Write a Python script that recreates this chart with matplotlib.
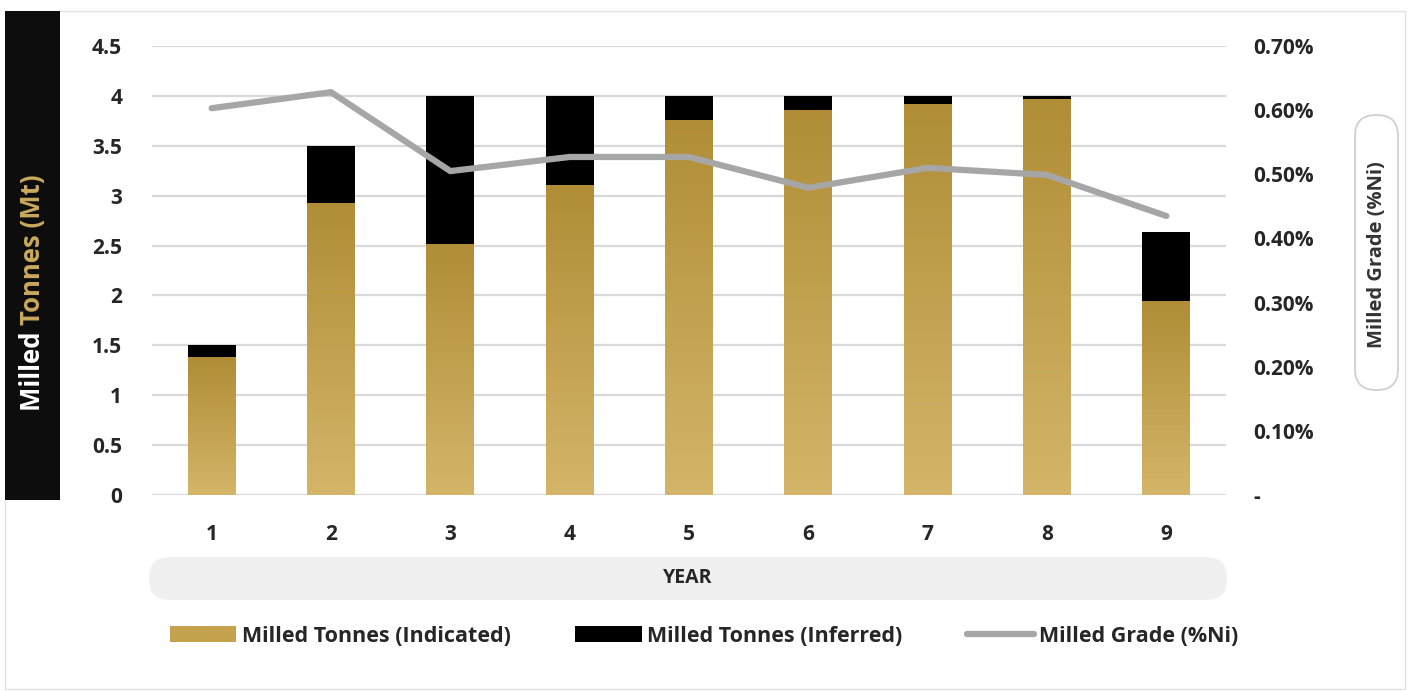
import numpy as np
import matplotlib
matplotlib.use("Agg")
import matplotlib.pyplot as plt
from matplotlib.patches import Rectangle, FancyBboxPatch
from matplotlib.lines import Line2D
from matplotlib.colors import LinearSegmentedColormap
from matplotlib.transforms import IdentityTransform

# data
years = [1, 2, 3, 4, 5, 6, 7, 8, 9]
indicated = [1.38, 2.93, 2.52, 3.11, 3.76, 3.86, 3.92, 3.97, 1.94]
inferred = [0.12, 0.57, 1.48, 0.89, 0.24, 0.14, 0.08, 0.03, 0.70]
grade = [0.603, 0.628, 0.505, 0.527, 0.527, 0.479, 0.510, 0.499, 0.435]  # %Ni
left_ticks = [0, 0.5, 1, 1.5, 2, 2.5, 3, 3.5, 4, 4.5]
left_labels = ["0", "0.5", "1", "1.5", "2", "2.5", "3", "3.5", "4", "4.5"]
right_ticks = [0, 0.1, 0.2, 0.3, 0.4, 0.5, 0.6, 0.7]
right_labels = ["-", "0.10%", "0.20%", "0.30%", "0.40%", "0.50%", "0.60%", "0.70%"]

W, H = 1409, 691
fig = plt.figure(figsize=(W / 100, H / 100), dpi=100)
plt.rcParams['font.family'] = ['Open Sans', 'DejaVu Sans']
px = IdentityTransform()  # pixel coords, origin bottom-left

def fx(p):
    return p / W

def fy(p):
    return 1 - p / H

# outer frame
fig.patches.append(Rectangle((5, 2), 1400, H - 13, transform=px,
                             facecolor="none", edgecolor="#e3e3e3", lw=1))

ax = fig.add_axes([fx(152), fy(495), fx(1226 - 152), (495 - 46) / H])
ax.set_axisbelow(True)
ax.grid(axis="y", color="#d9d9d9", lw=1.6)
for s in ax.spines.values():
    s.set_visible(False)

width = 0.40
gold = LinearSegmentedColormap.from_list("gold", ["#d4b569", "#b08d36"])
grad = np.linspace(0, 1, 256).reshape(-1, 1)

bars = ax.bar(years, indicated, width=width, color="#c4a24e", zorder=2)
ax.bar(years, inferred, width=width, bottom=indicated, color="#000000", zorder=2)
for b in bars:
    x0, h = b.get_x(), b.get_height()
    im = ax.imshow(grad, cmap=gold, origin="lower", aspect="auto",
                   extent=(x0, x0 + width, 0, h), zorder=2.5)
    im.set_clip_path(b)
ax.set_xlim(0.5, 9.5)
ax.set_ylim(0, 4.5)

ax.set_xticks(years)
ax.set_xticklabels([str(y) for y in years])
ax.set_yticks(left_ticks)
ax.set_yticklabels(left_labels)
ax.tick_params(axis="y", length=0, pad=21.5, labelsize=15, labelcolor="#262626")
ax.tick_params(axis="x", length=0, pad=21, labelsize=15, labelcolor="#262626")
for lab in ax.get_xticklabels() + ax.get_yticklabels():
    lab.set_fontweight("bold")

ax2 = ax.twinx()
ax2.plot(years, grade, color="#a6a6a6", lw=4.5, solid_capstyle="round", solid_joinstyle="miter", zorder=3)
ax2.set_ylim(0, 0.7)
ax2.set_yticks(right_ticks)
ax2.set_yticklabels(right_labels)
ax2.tick_params(axis="y", length=0, pad=19.5, labelsize=15, labelcolor="#262626")
for lab in ax2.get_yticklabels():
    lab.set_fontweight("bold")
for s in ax2.spines.values():
    s.set_visible(False)

# left axis title box
fig.patches.append(Rectangle((5, H - 500), 55, 489, transform=px,
                             facecolor="#0d0d0d", edgecolor="none"))
t1 = fig.text(fx(33), fy(411), "Milled ", rotation=90, ha="center", va="bottom",
              color="white", fontsize=18.5, fontweight="bold")
fig.canvas.draw()
ext = t1.get_window_extent()
fig.text(fx(33), ext.y1 / H, "Tonnes (Mt)", rotation=90, ha="center", va="bottom",
         color="#c9a95c", fontsize=18.5, fontweight="bold")

# right axis title box
fig.patches.append(FancyBboxPatch((1355, H - 390), 43, 275,
                                  boxstyle="round,pad=0,rounding_size=21",
                                  transform=px, facecolor="white",
                                  edgecolor="#d0d0d0", lw=1.3))
fig.text(fx(1377), fy(255), "Milled Grade (%Ni)", rotation=90, ha="center", va="center",
         color="#333333", fontsize=14.5, fontweight="bold")

# x axis title box
fig.patches.append(FancyBboxPatch((149, H - 600), 1078, 43,
                                  boxstyle="round,pad=0,rounding_size=21",
                                  transform=px, facecolor="#f0f0f0",
                                  edgecolor="none"))
fig.text(fx(688), fy(578), "YEAR", ha="center", va="center", color="#262626",
         fontsize=14, fontweight="bold")

handles = [Rectangle((0, 0), 1, 1, facecolor="#c4a24e"),
           Rectangle((0, 0), 1, 1, facecolor="#000000"),
           Line2D([0], [0], color="#a6a6a6", lw=4.5, solid_capstyle="round")]
labels = ["Milled Tonnes (Indicated)", "Milled Tonnes (Inferred)", "Milled Grade (%Ni)"]
fig.legend(handles, labels, loc="center", bbox_to_anchor=(fx(704), fy(636)), ncol=3,
           frameon=False, handlelength=3.1, handleheight=0.8, handletextpad=0.25,
           columnspacing=3.0, prop={"weight": "bold", "size": 15.5}, labelcolor="#262626")

fig.savefig("out.png", dpi=100)
